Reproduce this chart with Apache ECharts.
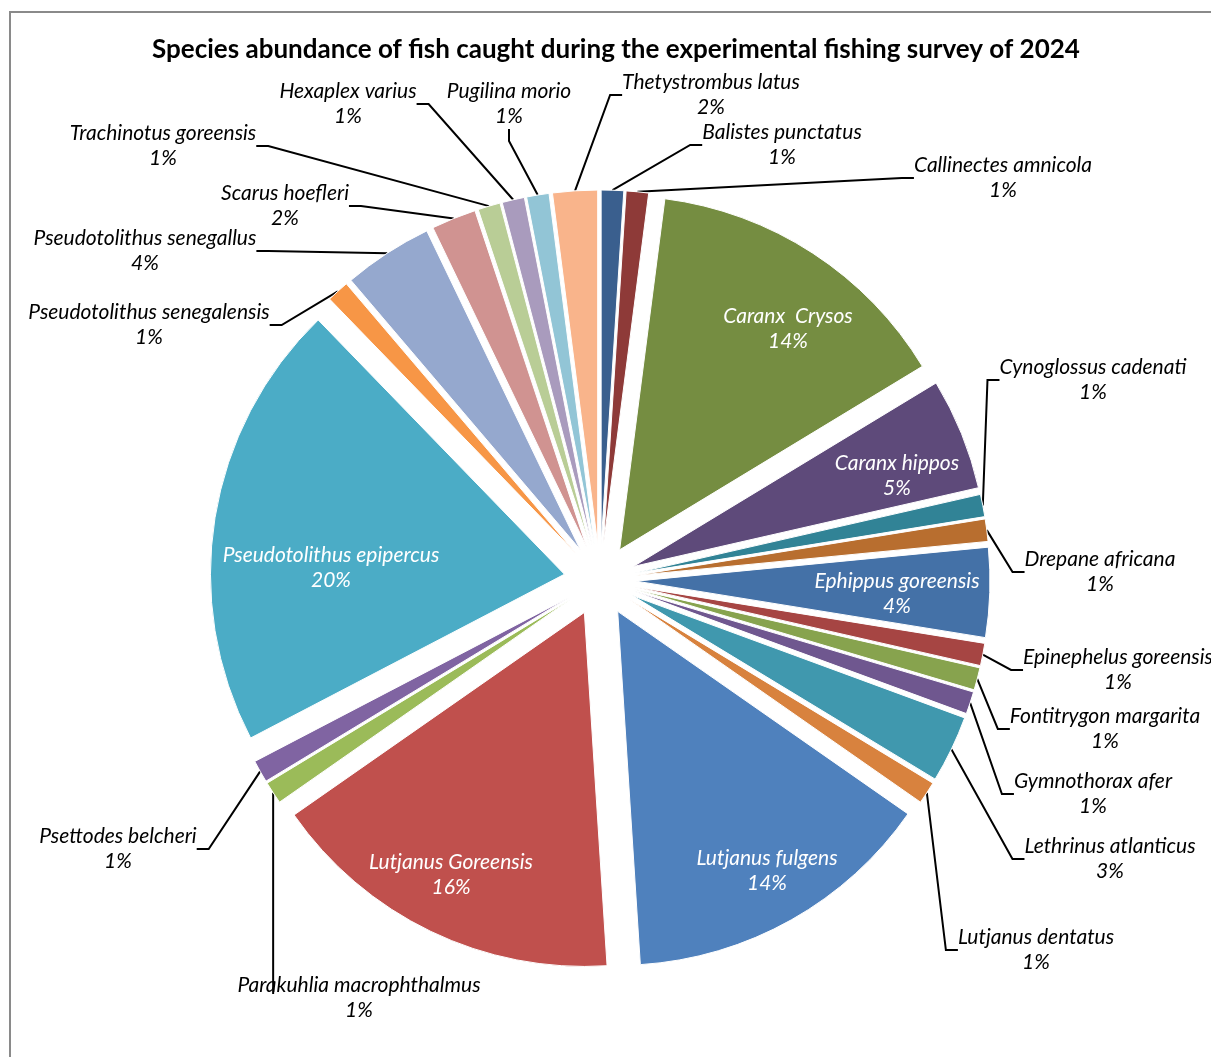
<!DOCTYPE html>
<html>
<head>
<meta charset="utf-8">
<title>Species abundance of fish caught during the experimental fishing survey of 2024</title>
<script src="https://cdn.jsdelivr.net/npm/echarts@6/dist/echarts.min.js"></script>
<style>
  html, body { margin: 0; padding: 0; background: #ffffff; }
  #chart { width: 1211px; height: 1057px; }
</style>
</head>
<body>
<div id="chart"></div>
<script>
// Species, in clockwise order from 12 o'clock
const species = [
  'Balistes punctatus', 'Callinectes amnicola', 'Caranx  Crysos', 'Caranx hippos',
  'Cynoglossus cadenati', 'Drepane africana', 'Ephippus goreensis', 'Epinephelus goreensis',
  'Fontitrygon margarita', 'Gymnothorax afer', 'Lethrinus atlanticus', 'Lutjanus dentatus',
  'Lutjanus fulgens', 'Lutjanus Goreensis', 'Parakuhlia macrophthalmus', 'Psettodes belcheri',
  'Pseudotolithus epipercus', 'Pseudotolithus senegalensis', 'Pseudotolithus senegallus',
  'Scarus hoefleri', 'Trachinotus goreensis', 'Hexaplex varius', 'Pugilina morio',
  'Thetystrombus latus'
];

// Share of the catch (%)
const share = [1, 1, 14, 5, 1, 1, 4, 1, 1, 1, 3, 1, 14, 16, 1, 1, 20, 1, 4, 2, 1, 1, 1, 2];

// Slice fills: shaded, mid, base and tinted office accents
const sliceColors = [
  '#3a5f8e', '#8e3a38', '#758d41', '#5e4a7a', '#318396', '#b86e2f',
  '#4471a7', '#a64543', '#87a34e', '#6f578f', '#4098ae', '#d8823e',
  '#4f81bd', '#c0504d', '#9bbb59', '#8064a2', '#4bacc6', '#f79646',
  '#95a8ce', '#d09391', '#b9cd96', '#a99bbd', '#92c5d6', '#f9b48b'
];

// Slices whose label sits inside the wedge
const insideLabels = [
  'Caranx  Crysos', 'Caranx hippos', 'Ephippus goreensis',
  'Lutjanus fulgens', 'Lutjanus Goreensis', 'Pseudotolithus epipercus'
];

// Labels reached by a straight vertical drop from the rim
const dropLeaders = ['Parakuhlia macrophthalmus'];

// Label block centres (px)
const labelSpots = {
  'Balistes punctatus': [782, 145],
  'Callinectes amnicola': [1003, 178],
  'Caranx  Crysos': [788, 329],
  'Caranx hippos': [897, 476],
  'Cynoglossus cadenati': [1093, 380],
  'Drepane africana': [1100, 572],
  'Ephippus goreensis': [897, 594],
  'Epinephelus goreensis': [1118, 670],
  'Fontitrygon margarita': [1105, 729],
  'Gymnothorax afer': [1093, 794],
  'Lethrinus atlanticus': [1110, 859],
  'Lutjanus dentatus': [1036, 950],
  'Lutjanus fulgens': [767, 871],
  'Lutjanus Goreensis': [451, 875],
  'Parakuhlia macrophthalmus': [359, 998],
  'Psettodes belcheri': [118, 849],
  'Pseudotolithus epipercus': [331, 568],
  'Pseudotolithus senegalensis': [149, 325],
  'Pseudotolithus senegallus': [145, 251],
  'Scarus hoefleri': [285, 206],
  'Trachinotus goreensis': [163, 146],
  'Hexaplex varius': [348, 104],
  'Pugilina morio': [509, 104],
  'Thetystrombus latus': [711, 95]
};

const PIE_X = 600, PIE_Y = 580, PIE_R = 354, EXPLODE = 36;
const LABEL_FONT = 'Lato, "Open Sans", sans-serif';

const total = share.reduce((a, b) => a + b, 0);

// Every wedge is pulled out along its own bisector, so each one gets its own
// pie series (same data, only one wedge painted) with a shifted centre.
let before = 0;
const series = species.map((name, k) => {
  const mid = (before + share[k] / 2) / total * 2 * Math.PI;
  before += share[k];
  const inside = insideLabels.includes(name);
  const cx = PIE_X + EXPLODE * Math.sin(mid);
  const cy = PIE_Y - EXPLODE * Math.cos(mid);
  // point on the rim at the wedge bisector
  const rimX = cx + PIE_R * Math.sin(mid);
  const rimY = cy - PIE_R * Math.cos(mid);
  return {
    type: 'pie',
    center: [cx, cy],
    radius: PIE_R,
    startAngle: 90,
    clockwise: true,
    silent: true,
    animation: false,
    avoidLabelOverlap: false,
    emphasis: { disabled: true },
    label: { show: false, position: 'outside' },
    labelLine: { show: false },
    labelLayout: (p) => {
      const spot = labelSpots[species[p.dataIndex]];
      const out = { x: spot[0], y: spot[1], align: 'center', verticalAlign: 'middle' };
      if (p.dataIndex === k && dropLeaders.includes(name)) {
        out.labelLinePoints = [[rimX, rimY], [rimX, spot[1] - 15], [rimX, spot[1] - 4]];
      }
      return out;
    },
    data: species.map((n, j) => {
      if (j !== k) {
        return {
          name: n, value: share[j],
          itemStyle: { color: 'rgba(0,0,0,0)', borderWidth: 0 },
          label: { show: false }, labelLine: { show: false }
        };
      }
      return {
        name: n, value: share[j],
        itemStyle: { color: sliceColors[j], borderColor: '#ffffff', borderWidth: 1 },
        label: {
          show: true,
          position: 'outside',
          formatter: (p) => p.name + '\n' + p.value + '%',
          color: inside ? '#ffffff' : '#000000',
          fontFamily: LABEL_FONT,
          fontStyle: 'italic',
          fontSize: 21,
          lineHeight: 25,
          align: 'center'
        },
        labelLine: {
          show: !inside,
          length: 10,
          length2: 12,
          lineStyle: { color: '#000000', width: 2 }
        }
      };
    })
  };
});

const chart = echarts.init(document.getElementById('chart'), null, { renderer: 'canvas' });
chart.setOption({
  backgroundColor: '#ffffff',
  title: {
    text: 'Species abundance of fish caught during the experimental fishing survey of 2024',
    left: 616,
    top: 37,
    padding: 0,
    textAlign: 'center',
    textStyle: {
      fontFamily: 'Lato, "Open Sans", sans-serif',
      fontWeight: 'bold',
      fontSize: 26,
      color: '#000000'
    }
  },
  graphic: [{
    type: 'rect',
    silent: true,
    shape: { x: 10, y: 12, width: 1300, height: 1200 },
    style: { fill: 'none', stroke: '#8a8a8a', lineWidth: 2 }
  }],
  series: series
});
</script>
</body>
</html>
